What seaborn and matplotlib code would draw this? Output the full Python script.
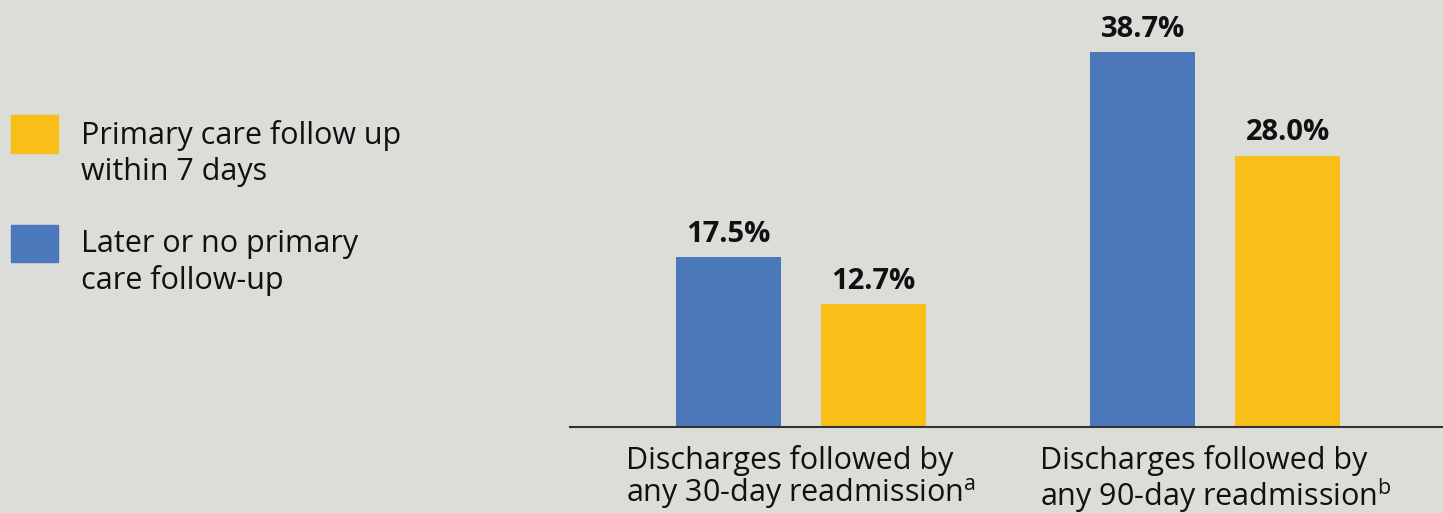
import numpy as np
import pandas as pd
import seaborn as sns
import matplotlib.pyplot as plt
from matplotlib.patches import Patch

categories = ['Discharges followed by\nany 30-day readmission$^\\mathregular{a}$',
              'Discharges followed by\nany 90-day readmission$^\\mathregular{b}$']
later_or_none = [17.5, 38.7]
within_7_days = [12.7, 28.0]
series_names = ['Later or no primary\ncare follow-up', 'Primary care follow up\nwithin 7 days']

bg = '#dcdcd8'
blue = '#4a78bb'
yellow = '#f8bf18'

df = pd.DataFrame({
    'category': categories * 2,
    'series': [series_names[0]] * 2 + [series_names[1]] * 2,
    'value': later_or_none + within_7_days,
})

sns.set_style('white')
plt.rcParams['font.family'] = ['Open Sans', 'DejaVu Sans']

fig = plt.figure(figsize=(14.43, 5.13), dpi=100, facecolor=bg)
ax = fig.add_axes([0.395, 0.1676, 0.605, 0.8324])
ax.set_facecolor(bg)

sns.barplot(data=df, x='category', y='value', hue='series', hue_order=series_names,
            palette=[blue, yellow], width=0.7, gap=0.276, saturation=1, ax=ax,
            legend=False, linewidth=0, edgecolor='none')

for c in ax.containers:
    ax.bar_label(c, fmt='%.1f%%', padding=6, fontsize=21, fontweight='bold', color='#111111')

ax.set_ylim(0, 44.07)
ax.set_xlim(-0.557, 1.549)
ax.set_xlabel('')
ax.set_ylabel('')
ax.set_yticks([])
ax.tick_params(axis='x', length=0, pad=13, labelsize=22, labelcolor='#111111')
for lab in ax.get_xticklabels():
    lab.set_horizontalalignment('center')
    lab.set_multialignment('left')
    lab.set_linespacing(1.0)
for s in ['top', 'right', 'left']:
    ax.spines[s].set_visible(False)
ax.spines['bottom'].set_color('#333333')
ax.spines['bottom'].set_linewidth(1.5)

handles = [Patch(color=yellow), Patch(color=blue)]
leg = fig.legend(handles, [series_names[1], series_names[0]], loc='upper left',
                 bbox_to_anchor=(-0.001, 0.79), frameon=False, fontsize=22,
                 handlelength=1.55, handleheight=1.5, handletextpad=0.75,
                 labelspacing=1.4, labelcolor='#111111', borderaxespad=0)
for t in leg.get_texts():
    t.set_linespacing(1.25)
# squares sit beside the first line of each label
for p in leg.legend_handles:
    p.set_y(p.get_y() + 15)

fig.savefig('out.png', dpi=100, facecolor=bg)
